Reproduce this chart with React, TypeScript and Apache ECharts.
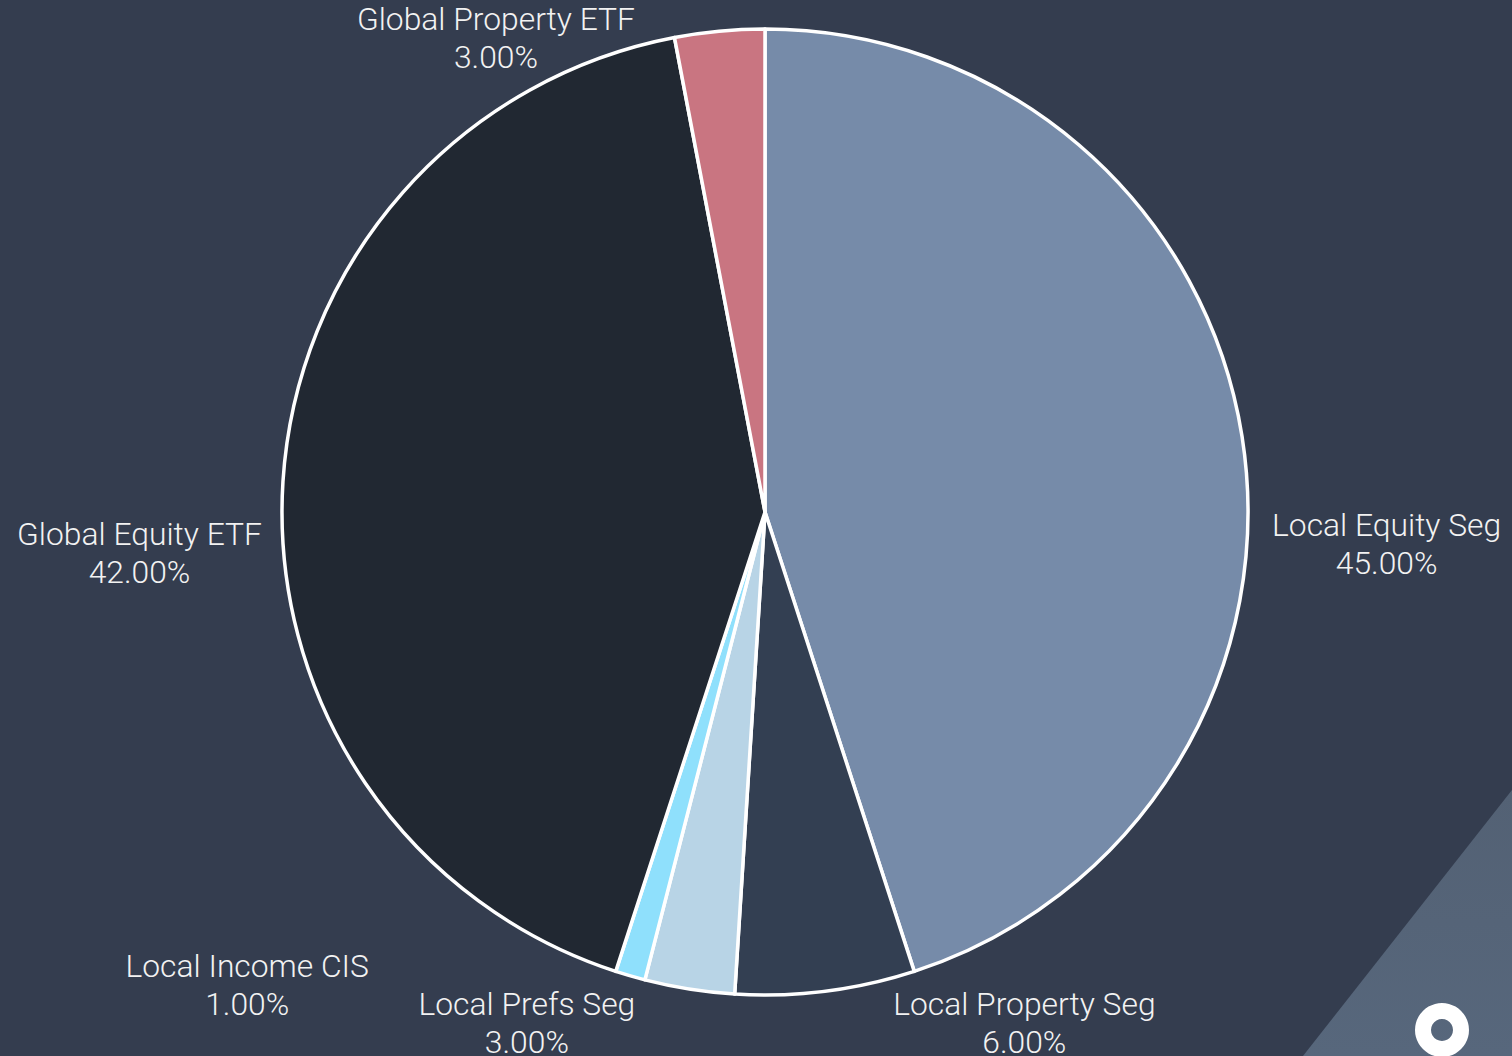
import React, { useEffect, useRef } from "react";
import * as echarts from "echarts";

const categories = [
  "Local Equity Seg",
  "Local Property Seg",
  "Local Prefs Seg",
  "Local Income CIS",
  "Global Equity ETF",
  "Global Property ETF",
];
const values = [45, 6, 3, 1, 42, 3];
const colors = ["#768ba9", "#333f52", "#b8d4e6", "#8fe0fc", "#212832", "#c97581"];

// label anchor offsets relative to pie centre, in units of the radius
const labelOffsets: [number, number][] = [
  [1.287, 0.066],
  [0.537, 1.058],
  [-0.493, 1.058],
  [-1.072, 0.979],
  [-1.295, 0.085],
  [-0.557, -0.981],
];

const W = 1512;
const H = 1056;
const CX = 765;
const CY = 512;
const R = 483;

export default function App() {
  const ref = useRef<HTMLDivElement>(null);
  useEffect(() => {
    document.body.style.margin = "0";
    const chart = echarts.init(ref.current!, undefined, { renderer: "svg" });
    chart.setOption({
      animation: false,
      backgroundColor: "#343d4f",
      graphic: [
        {
          type: "polygon",
          z: -1,
          shape: { points: [[W, 790], [W, H], [1303, H]] },
          style: {
            fill: new echarts.graphic.LinearGradient(0, 0, 0, 1, [
              { offset: 0, color: "#536174" },
              { offset: 1, color: "#57677c" },
            ]),
          },
        },
        {
          type: "ring",
          shape: { cx: 1442, cy: 1030, r: 27, r0: 11 },
          style: { fill: "#ffffff" },
        },
      ],
      series: [
        {
          type: "pie",
          center: [CX, CY],
          radius: R,
          startAngle: 90,
          clockwise: true,
          avoidLabelOverlap: false,
          itemStyle: { borderColor: "#ffffff", borderWidth: 3.5 },
          label: {
            show: true,
            position: "outside",
            formatter: (p: any) => `${p.name}\n${Number(p.value).toFixed(2)}%`,
            color: "#f2f2f2",
            fontFamily: "Roboto",
            fontWeight: 300,
            fontSize: 31.8,
            lineHeight: 38,
          },
          labelLine: { show: false },
          labelLayout: (params: any) => {
            const o = labelOffsets[params.dataIndex];
            return {
              x: CX + o[0] * R,
              y: CY + o[1] * R,
              align: "center",
              verticalAlign: "middle",
            };
          },
          data: categories.map((name, i) => ({
            name,
            value: values[i],
            itemStyle: { color: colors[i] },
          })),
        },
      ],
    });
    return () => chart.dispose();
  }, []);
  return <div ref={ref} style={{ width: W, height: H, position: "absolute", left: 0, top: 0 }} />;
}
